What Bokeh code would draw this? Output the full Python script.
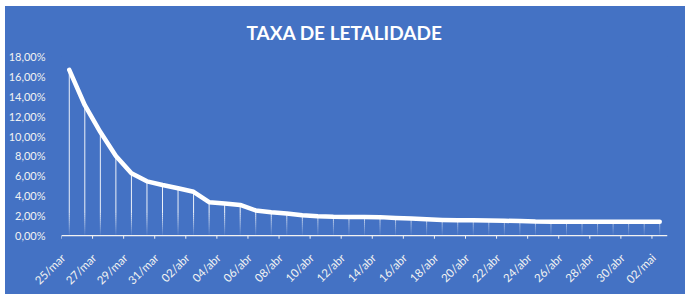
import math
import numpy as np
from bokeh.plotting import figure
from bokeh.models import Range1d, FixedTicker, ColumnDataSource
from bokeh.embed import file_html
from bokeh.resources import INLINE

# ---- data ----
dates = ["25/mar", "26/mar", "27/mar", "28/mar", "29/mar", "30/mar", "31/mar",
         "01/abr", "02/abr", "03/abr", "04/abr", "05/abr", "06/abr", "07/abr",
         "08/abr", "09/abr", "10/abr", "11/abr", "12/abr", "13/abr", "14/abr",
         "15/abr", "16/abr", "17/abr", "18/abr", "19/abr", "20/abr", "21/abr",
         "22/abr", "23/abr", "24/abr", "25/abr", "26/abr", "27/abr", "28/abr",
         "29/abr", "30/abr", "01/mai", "02/mai"]
rates = [16.65, 13.1, 10.4, 8.0, 6.25, 5.45, 5.08, 4.75, 4.4, 3.35,
         3.22, 3.07, 2.52, 2.33, 2.22, 2.03, 1.93, 1.88, 1.87, 1.86,
         1.85, 1.77, 1.70, 1.63, 1.57, 1.54, 1.53, 1.50, 1.48, 1.46,
         1.40, 1.39, 1.39, 1.38, 1.38, 1.38, 1.38, 1.38, 1.38]
y_ticks = [0, 2, 4, 6, 8, 10, 12, 14, 16, 18]
y_tick_labels = ["0,00%", "2,00%", "4,00%", "6,00%", "8,00%", "10,00%",
                 "12,00%", "14,00%", "16,00%", "18,00%"]
title_text = "TAXA DE LETALIDADE"

BLUE = "#4472C4"
FONT = "Lato"

n = len(dates)
xs = list(range(n))

p = figure(width=680, height=288, output_backend="svg", toolbar_location=None,
           x_range=Range1d(-0.5, n - 0.5), y_range=Range1d(-0.5, 18.0),
           min_border_left=55, min_border_right=18, min_border_top=50,
           min_border_bottom=54, title=title_text)
p.margin = (6, 0, 0, 5)
p.styles = {"background-color": BLUE}
p.background_fill_color = BLUE
p.border_fill_color = BLUE
p.outline_line_color = None
p.xgrid.grid_line_color = None
p.ygrid.grid_line_color = None

p.title.align = "left"
p.title.offset = 185
p.title.text_color = "white"
p.title.text_font = FONT
p.title.text_font_size = "19px"
p.title.text_font_style = "bold"
p.title.standoff = 25

# y axis
p.yaxis.ticker = FixedTicker(ticks=y_ticks)
p.yaxis.major_label_overrides = {t: l for t, l in zip(y_ticks, y_tick_labels)}
p.yaxis.axis_line_color = None
p.yaxis.major_tick_line_color = None
p.yaxis.minor_tick_line_color = None
p.yaxis.major_label_standoff = 10
p.yaxis.major_label_text_color = "#F2F2F2"
p.yaxis.major_label_text_font = FONT
p.yaxis.major_label_text_font_size = "11px"

# x axis (labels only); labels sit just left of each category centre
label_idx = list(range(0, n, 2))
label_pos = [i - 0.4 for i in label_idx]
p.xaxis.ticker = FixedTicker(ticks=label_pos)
p.xaxis.major_label_overrides = {pos: dates[i] for pos, i in zip(label_pos, label_idx)}
p.xaxis.axis_line_color = None
p.xaxis.major_tick_line_color = None
p.xaxis.minor_tick_line_color = None
p.xaxis.major_tick_out = 0
p.xaxis.major_label_standoff = 15
p.xaxis.major_label_orientation = math.pi / 4
p.xaxis.major_label_text_color = "#F2F2F2"
p.xaxis.major_label_text_font = FONT
p.xaxis.major_label_text_font_size = "11.5px"

# axis line and tick marks at category boundaries
p.segment(x0=[-0.5], y0=[0], x1=[n - 0.5], y1=[0], line_color="#F2F2F2", line_width=1.2)
bounds = [b - 0.5 for b in range(0, n, 2)]
p.segment(x0=bounds, y0=[0] * len(bounds), x1=bounds, y1=[-0.32] * len(bounds),
          line_color="#F2F2F2", line_width=1)

# drop lines with fading bottom
fade = 2.2
bands = np.linspace(0, fade, 12)
x0s, y0s, y1s, alphas = [], [], [], []
for x, r in zip(xs, rates):
    if r > fade:
        x0s.append(x); y0s.append(fade); y1s.append(r); alphas.append(0.9)
    for lo, hi in zip(bands[:-1], bands[1:]):
        if r <= lo:
            break
        top = min(hi, r)
        x0s.append(x); y0s.append(lo); y1s.append(top)
        alphas.append(0.04 + 0.86 * ((lo + top) / 2) / fade)
dsrc = ColumnDataSource(dict(x=x0s, y0=y0s, y1=y1s, a=alphas))
p.segment(x0="x", y0="y0", x1="x", y1="y1", source=dsrc, line_color="white",
          line_alpha="a", line_width=1)

# main line
p.line(xs, rates, line_color="white", line_width=4.5, line_join="round", line_cap="round")

open("out.html", "w").write(file_html(p, INLINE))
